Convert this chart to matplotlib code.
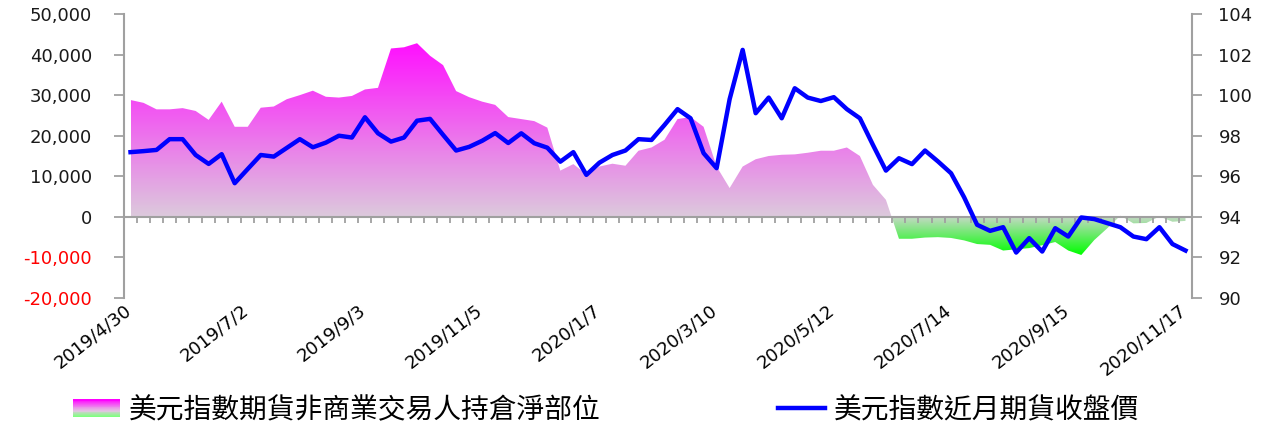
import matplotlib.pyplot as plt
import numpy as np
from matplotlib.colors import LinearSegmentedColormap
from matplotlib.patches import PathPatch, Rectangle
from matplotlib.lines import Line2D
from matplotlib.legend_handler import HandlerBase
from matplotlib.transforms import ScaledTranslation

plt.rcParams['font.family'] = ['DejaVu Sans', 'Noto Sans CJK TC']

# 美元指數期貨非商業交易人持倉淨部位 (口), weekly 2019/4/30 ~ 2020/11/17
net_pos = [28800, 28100, 26500, 26500, 26800, 26100, 23900, 28400, 22200, 22200,
           26900, 27200, 29000, 30000, 31100, 29600, 29400, 29800, 31400, 31800,
           41500, 41800, 42800, 39700, 37400, 31000, 29500, 28400, 27600, 24600,
           24100, 23600, 22000, 11400, 13000, 10500, 12400, 13100, 12600, 16300,
           17100, 19000, 24100, 24600, 22200, 12400, 7100, 12400, 14200, 15000,
           15300, 15400, 15800, 16300, 16300, 17100, 15000, 7900, 4200, -5400,
           -5400, -5100, -5000, -5200, -5800, -6700, -6900, -8300, -8000, -7700,
           -7000, -6200, -8300, -9400, -5700, -2800, 300, -1600, -1500, 100,
           -1200, -1000]

# 美元指數近月期貨收盤價
dxy_close = [97.19, 97.24, 97.30, 97.83, 97.83, 97.05, 96.61, 97.09, 95.66, 96.36,
             97.05, 96.97, 97.40, 97.83, 97.43, 97.66, 98.00, 97.91, 98.91, 98.12,
             97.71, 97.91, 98.74, 98.83, 98.04, 97.27, 97.45, 97.75, 98.13, 97.64,
             98.12, 97.63, 97.41, 96.72, 97.19, 96.07, 96.67, 97.05, 97.27, 97.83,
             97.79, 98.53, 99.31, 98.86, 97.14, 96.40, 99.80, 102.23, 99.11, 99.88,
             98.86, 100.34, 99.88, 99.71, 99.90, 99.31, 98.86, 97.55, 96.28, 96.89,
             96.60, 97.27, 96.73, 96.15, 94.97, 93.61, 93.31, 93.49, 92.24, 92.95,
             92.29, 93.44, 93.03, 93.97, 93.89, 93.69, 93.49, 93.03, 92.90, 93.49,
             92.66, 92.34]

tick_labels = ['2019/4/30', '2019/7/2', '2019/9/3', '2019/11/5', '2020/1/7',
               '2020/3/10', '2020/5/12', '2020/7/14', '2020/9/15', '2020/11/17']
left_ticks = [-20000, -10000, 0, 10000, 20000, 30000, 40000, 50000]
right_ticks = [90, 92, 94, 96, 98, 100, 102, 104]

label_net = '美元指數期貨非商業交易人持倉淨部位'
label_dxy = '美元指數近月期貨收盤價'

x = np.arange(len(net_pos))
net = np.array(net_pos)
grey = '#a0a0a0'

fig = plt.figure(figsize=(12.75, 4.25), dpi=100)
ax1 = fig.add_axes([124 / 1275, 1 - 298 / 425, (1192 - 124) / 1275, (298 - 14) / 425])

# area with gradient fill (clipped images)
area = ax1.fill_between(x, 0, net, facecolor='none', edgecolor='none')
clip = PathPatch(area.get_paths()[0], transform=ax1.transData,
                 facecolor='none', edgecolor='none')
ax1.add_patch(clip)
grad = np.linspace(0, 1, 256).reshape(-1, 1)
pink = LinearSegmentedColormap.from_list('pink', ['#dccadc', '#ff10ff'])
green = LinearSegmentedColormap.from_list('green', ['#00ff00', '#c8d8c8'])
im1 = ax1.imshow(grad, cmap=pink, origin='lower', aspect='auto', zorder=1,
                 extent=(x[0], x[-1], 0, net.max()))
im1.set_clip_path(clip)
im2 = ax1.imshow(grad, cmap=green, origin='lower', aspect='auto', zorder=1,
                 extent=(x[0], x[-1], net.min(), 0))
im2.set_clip_path(clip)

ax1.set_xlim(-0.5, len(x) - 0.5)
ax1.set_ylim(-20000, 50000)

# category axis line at zero, ticks between categories
ax1.spines['bottom'].set_position(('data', 0))
ax1.spines['bottom'].set_color(grey)
ax1.spines['bottom'].set_linewidth(1.5)
ax1.set_xticks(np.arange(0.5, len(x) - 1, 1))
ax1.tick_params(axis='x', length=4, width=1.3, color=grey, labelbottom=False)

sec = ax1.secondary_xaxis('bottom')
sec.set_xticks(x[::9], tick_labels, rotation=38, ha='right', va='top',
               rotation_mode='anchor', fontsize=13)
sec.tick_params(length=0, pad=2)
sec.spines['bottom'].set_visible(False)
shift = ScaledTranslation(-7 / 100, 0, fig.dpi_scale_trans)
for lbl in sec.get_xticklabels():
    lbl.set_transform(lbl.get_transform() + shift)

ax1.spines['top'].set_visible(False)
ax1.spines['right'].set_visible(False)
ax1.spines['left'].set_color(grey)
ax1.spines['left'].set_linewidth(1.5)
ax1.set_yticks(left_ticks, [f'{v:,}' for v in left_ticks])
ax1.tick_params(axis='y', length=7, width=1.3, color=grey, labelsize=13, pad=16)
for lbl, v in zip(ax1.get_yticklabels(), left_ticks):
    lbl.set_color('#ff0000' if v < 0 else '#1a1a1a')

ax2 = ax1.twinx()
ax2.plot(x, dxy_close, color='#0000ff', lw=3.2)
ax2.set_ylim(90, 104)
ax2.set_yticks(right_ticks)
for s in ['top', 'left', 'bottom']:
    ax2.spines[s].set_visible(False)
ax2.spines['right'].set_color(grey)
ax2.spines['right'].set_linewidth(1.5)
ax2.tick_params(axis='y', length=7, width=1.3, color=grey, labelsize=13,
                labelcolor='#1a1a1a', pad=12)


class GradientHandler(HandlerBase):
    def create_artists(self, legend, orig_handle, xdescent, ydescent,
                       width, height, fontsize, trans):
        cmap = LinearSegmentedColormap.from_list(
            'leg', ['#80ff80', '#e2c6e2', '#f070f0', '#ff00ff'])
        n = 20
        bars = []
        for k in range(n):
            bars.append(Rectangle((-xdescent, -ydescent + height * k / n), width,
                                  height / n + 0.3, facecolor=cmap(k / (n - 1)),
                                  edgecolor='none', transform=trans))
        return bars


leg_font = {'family': ['Noto Sans CJK TC', 'DejaVu Sans'], 'size': 20}
fig.legend([Rectangle((0, 0), 1, 1)], [label_net], handler_map={Rectangle: GradientHandler()},
           loc='center left', bbox_to_anchor=(73 / 1275, 1 - 410 / 425), frameon=False,
           prop=leg_font, handlelength=1.7, handleheight=0.55, handletextpad=0.3,
           borderaxespad=0, borderpad=0)
fig.legend([Line2D([], [], color='#0000ff', lw=3.2)], [label_dxy],
           loc='center left', bbox_to_anchor=(778 / 1275, 1 - 410 / 425), frameon=False,
           prop=leg_font, handlelength=1.7, handletextpad=0.3,
           borderaxespad=0, borderpad=0)

fig.savefig('out.png', dpi=100)
